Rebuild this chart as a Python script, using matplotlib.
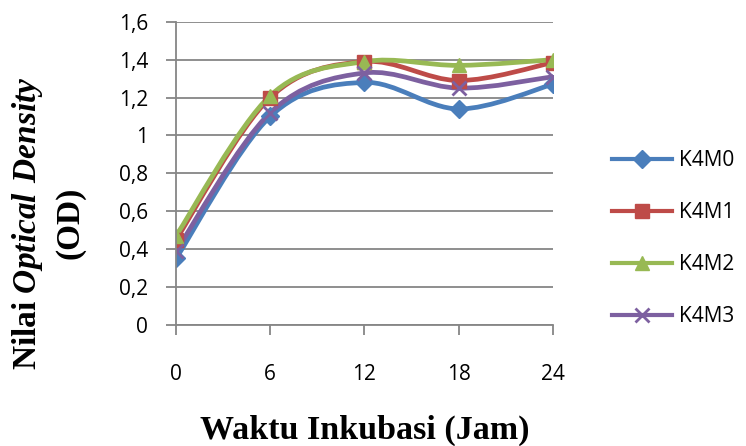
import numpy as np
import matplotlib
matplotlib.use('Agg')
import matplotlib.pyplot as plt
from matplotlib.path import Path
from matplotlib.patches import PathPatch
from matplotlib.lines import Line2D

# data
jam = ['0', '6', '12', '18', '24']
k4m0 = [0.35, 1.10, 1.28, 1.14, 1.27]
k4m1 = [0.45, 1.20, 1.39, 1.29, 1.385]
k4m2 = [0.47, 1.21, 1.39, 1.37, 1.40]
k4m3 = [0.39, 1.12, 1.33, 1.25, 1.31]
names = ['K4M0', 'K4M1', 'K4M2', 'K4M3']

colors = ['#4A7EBB', '#BE4B48', '#98B954', '#7D60A0']
markers = ['D', 's', '^', 'x']
msizes = [9, 10, 10, 10]

def smooth_path(xs, ys):
    # excel style smoothed line (catmull-rom as bezier segments)
    pts = np.column_stack([xs, ys]).astype(float)
    ext = np.vstack([pts[0], pts, pts[-1]])
    verts = [pts[0]]
    codes = [Path.MOVETO]
    for i in range(len(pts) - 1):
        p0, p1, p2, p3 = ext[i], ext[i + 1], ext[i + 2], ext[i + 3]
        verts += [p1 + (p2 - p0) / 6, p2 - (p3 - p1) / 6, p2]
        codes += [Path.CURVE4] * 3
    return Path(verts, codes)

fig = plt.figure(figsize=(7.46, 4.46), dpi=100)
ax = fig.add_axes([0.236, 0.272, 0.505, 0.679])

x = np.arange(len(jam))
handles = []
for vals, c, m, ms, n in zip([k4m0, k4m1, k4m2, k4m3], colors, markers, msizes, names):
    ax.add_patch(PathPatch(smooth_path(x, vals), facecolor='none', edgecolor=c,
                           lw=3.4, capstyle='round', joinstyle='round'))
    ax.plot(x, vals, linestyle='none', marker=m, color=c, markersize=ms,
            markeredgewidth=2 if m == 'x' else 1)
    handles.append(Line2D([], [], color=c, lw=3, marker=m, markersize=ms,
                          markeredgewidth=2 if m == 'x' else 1))

ax.set_xlim(0, 4)
ax.set_ylim(0, 1.6)
ax.set_xticks(x)
ax.set_xticklabels(jam)
yt = np.arange(0, 1.61, 0.2)
ax.set_yticks(yt)
ax.set_yticklabels(['0' if v == 0 else ('1' if abs(v - 1) < 1e-9 else f'{v:.1f}'.replace('.', ',')) for v in yt])
ax.grid(axis='y', color='#868686', lw=1.3)
ax.set_axisbelow(True)
for s in ['top', 'right']:
    ax.spines[s].set_visible(False)
for s in ['left', 'bottom']:
    ax.spines[s].set_color('#868686')
    ax.spines[s].set_linewidth(1.3)
ax.tick_params(axis='both', direction='out', length=7, width=1.3, color='#868686',
               labelsize=15)
ax.tick_params(axis='y', pad=13)
ax.tick_params(axis='x', pad=21)
for lab in ax.get_xticklabels() + ax.get_yticklabels():
    lab.set_family('Open Sans')

fig.legend(handles, names, loc='upper left', bbox_to_anchor=(612 / 746, 1 - 150 / 446),
           frameon=False, prop={'family': 'Open Sans', 'size': 15}, labelspacing=1.49,
           handlelength=2.9, handletextpad=0.3, borderpad=0, borderaxespad=0)

plt.rcParams['mathtext.fontset'] = 'custom'
plt.rcParams['mathtext.rm'] = 'Liberation Serif:bold'
plt.rcParams['mathtext.bfit'] = 'Liberation Serif:italic:bold'

fig.text(365 / 746, 1 - 430 / 446, 'Waktu Inkubasi (Jam)', ha='center', va='center',
         family='Liberation Serif', fontweight='bold', fontsize=24.5)
fig.text(28 / 746, 1 - 223 / 446, r'Nilai $\mathbfit{Optical\ Density}$', rotation=90,
         ha='center', va='center', family='Liberation Serif', fontweight='bold', fontsize=24)
fig.text(70 / 746, 1 - 223 / 446, '(OD)', rotation=90, ha='center', va='center',
         family='Liberation Serif', fontweight='bold', fontsize=24)

fig.savefig('out.png', dpi=100)
